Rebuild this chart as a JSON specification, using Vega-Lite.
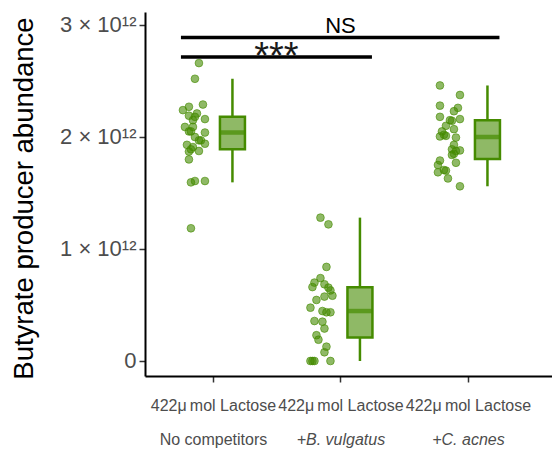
{
  "$schema": "https://vega.github.io/schema/vega-lite/v6.json",
  "width": 407,
  "height": 364,
  "autosize": {"type": "none"},
  "padding": {"left": 145, "top": 12, "right": 0, "bottom": 73},
  "background": "white",
  "config": {"font": "Liberation Sans", "view": {"stroke": null}},
  "datasets": {
    "obs": [
      {"group": "No competitors", "slot": 8, "value": 2.66e12},
      {"group": "No competitors", "slot": 6, "value": 2.52e12},
      {"group": "No competitors", "slot": 10, "value": 2.29e12},
      {"group": "No competitors", "slot": 0, "value": 2.24e12},
      {"group": "No competitors", "slot": 3, "value": 2.27e12},
      {"group": "No competitors", "slot": 3, "value": 2.19e12},
      {"group": "No competitors", "slot": 6, "value": 2.18e12},
      {"group": "No competitors", "slot": 7, "value": 2.21e12},
      {"group": "No competitors", "slot": 5, "value": 2.15e12},
      {"group": "No competitors", "slot": 11, "value": 2.16e12},
      {"group": "No competitors", "slot": 1, "value": 2.09e12},
      {"group": "No competitors", "slot": 5, "value": 2.09e12},
      {"group": "No competitors", "slot": 4, "value": 2.05e12},
      {"group": "No competitors", "slot": 11, "value": 2.04e12},
      {"group": "No competitors", "slot": 3, "value": 2.05e12},
      {"group": "No competitors", "slot": 6, "value": 2.0e12},
      {"group": "No competitors", "slot": 8, "value": 1.97e12},
      {"group": "No competitors", "slot": 9, "value": 1.97e12},
      {"group": "No competitors", "slot": 11, "value": 1.94e12},
      {"group": "No competitors", "slot": 2, "value": 1.93e12},
      {"group": "No competitors", "slot": 5, "value": 1.91e12},
      {"group": "No competitors", "slot": 4, "value": 1.89e12},
      {"group": "No competitors", "slot": 8, "value": 1.875e12},
      {"group": "No competitors", "slot": 3, "value": 1.87e12},
      {"group": "No competitors", "slot": 3, "value": 1.80e12},
      {"group": "No competitors", "slot": 4, "value": 1.595e12},
      {"group": "No competitors", "slot": 6, "value": 1.607e12},
      {"group": "No competitors", "slot": 11, "value": 1.607e12},
      {"group": "No competitors", "slot": 4, "value": 1.185e12},
      {"group": "+B. vulgatus", "slot": 5, "value": 1.28e12},
      {"group": "+B. vulgatus", "slot": 9, "value": 1.22e12},
      {"group": "+B. vulgatus", "slot": 8, "value": 0.84e12},
      {"group": "+B. vulgatus", "slot": 5, "value": 0.74e12},
      {"group": "+B. vulgatus", "slot": 2, "value": 0.70e12},
      {"group": "+B. vulgatus", "slot": 1, "value": 0.66e12},
      {"group": "+B. vulgatus", "slot": 7, "value": 0.685e12},
      {"group": "+B. vulgatus", "slot": 9, "value": 0.655e12},
      {"group": "+B. vulgatus", "slot": 10, "value": 0.63e12},
      {"group": "+B. vulgatus", "slot": 3, "value": 0.545e12},
      {"group": "+B. vulgatus", "slot": 7, "value": 0.575e12},
      {"group": "+B. vulgatus", "slot": 11, "value": 0.583e12},
      {"group": "+B. vulgatus", "slot": 0, "value": 0.476e12},
      {"group": "+B. vulgatus", "slot": 6, "value": 0.446e12},
      {"group": "+B. vulgatus", "slot": 8, "value": 0.435e12},
      {"group": "+B. vulgatus", "slot": 10, "value": 0.435e12},
      {"group": "+B. vulgatus", "slot": 2, "value": 0.357e12},
      {"group": "+B. vulgatus", "slot": 6, "value": 0.351e12},
      {"group": "+B. vulgatus", "slot": 7, "value": 0.29e12},
      {"group": "+B. vulgatus", "slot": 3, "value": 0.23e12},
      {"group": "+B. vulgatus", "slot": 4, "value": 0.19e12},
      {"group": "+B. vulgatus", "slot": 8, "value": 0.128e12},
      {"group": "+B. vulgatus", "slot": 7, "value": 0.078e12},
      {"group": "+B. vulgatus", "slot": 0, "value": 0},
      {"group": "+B. vulgatus", "slot": 1, "value": 0},
      {"group": "+B. vulgatus", "slot": 2, "value": 0},
      {"group": "+B. vulgatus", "slot": 10, "value": 0},
      {"group": "+C. acnes", "slot": 1, "value": 2.46e12},
      {"group": "+C. acnes", "slot": 11, "value": 2.375e12},
      {"group": "+C. acnes", "slot": 1, "value": 2.28e12},
      {"group": "+C. acnes", "slot": 10, "value": 2.26e12},
      {"group": "+C. acnes", "slot": 8, "value": 2.23e12},
      {"group": "+C. acnes", "slot": 1, "value": 2.18e12},
      {"group": "+C. acnes", "slot": 11, "value": 2.16e12},
      {"group": "+C. acnes", "slot": 6, "value": 2.15e12},
      {"group": "+C. acnes", "slot": 7, "value": 2.145e12},
      {"group": "+C. acnes", "slot": 4, "value": 2.10e12},
      {"group": "+C. acnes", "slot": 8, "value": 2.07e12},
      {"group": "+C. acnes", "slot": 2, "value": 2.05e12},
      {"group": "+C. acnes", "slot": 4, "value": 2.01e12},
      {"group": "+C. acnes", "slot": 3, "value": 2.02e12},
      {"group": "+C. acnes", "slot": 1, "value": 2.005e12},
      {"group": "+C. acnes", "slot": 9, "value": 1.995e12},
      {"group": "+C. acnes", "slot": 8, "value": 1.93e12},
      {"group": "+C. acnes", "slot": 7, "value": 1.89e12},
      {"group": "+C. acnes", "slot": 9, "value": 1.875e12},
      {"group": "+C. acnes", "slot": 11, "value": 1.88e12},
      {"group": "+C. acnes", "slot": 8, "value": 1.85e12},
      {"group": "+C. acnes", "slot": 7, "value": 1.84e12},
      {"group": "+C. acnes", "slot": 1, "value": 1.79e12},
      {"group": "+C. acnes", "slot": 9, "value": 1.77e12},
      {"group": "+C. acnes", "slot": 0, "value": 1.75e12},
      {"group": "+C. acnes", "slot": 4, "value": 1.70e12},
      {"group": "+C. acnes", "slot": 0, "value": 1.685e12},
      {"group": "+C. acnes", "slot": 3, "value": 1.705e12},
      {"group": "+C. acnes", "slot": 5, "value": 1.63e12},
      {"group": "+C. acnes", "slot": 11, "value": 1.56e12}
    ],
    "sig": [
      {"from": "No competitors", "to": "+B. vulgatus", "y": 2.714e12, "label": "***"},
      {"from": "No competitors", "to": "+C. acnes", "y": 2.888e12, "label": "NS"}
    ]
  },
  "resolve": {"axis": {"x": "independent", "y": "independent"}},
  "layer": [
    {
      "data": {"name": "obs"},
      "mark": {"type": "point", "filled": true, "shape": "circle", "size": 60, "color": "#458B00", "fillOpacity": 0.6, "stroke": "#458B00", "strokeOpacity": 0.6, "strokeWidth": 1},
      "encoding": {
        "x": {
          "field": "group", "type": "nominal",
          "scale": {"type": "point", "domain": ["No competitors", "+B. vulgatus", "+C. acnes"], "padding": 0.596, "align": 0.447},
          "axis": {"orient": "bottom", "title": null, "labelExpr": "'422μ\u2009mol Lactose'", "labelFontSize": 16, "labelColor": "#4d4d4d", "labelPadding": 15, "labelAngle": 0, "labelBaseline": "top", "tickSize": 6, "tickColor": "#333333", "tickWidth": 1.5, "domainColor": "#000000", "domainWidth": 2, "grid": false}
        },
        "xOffset": {"field": "slot", "type": "ordinal", "scale": {"type": "point", "domain": [0,1,2,3,4,5,6,7,8,9,10,11], "range": [-30, -8], "padding": 0}},
        "y": {
          "field": "value", "type": "quantitative",
          "scale": {"domain": [-0.134e12, 3.116e12], "nice": false, "zero": false},
          "axis": {"orient": "left", "title": "Butyrate producer abundance", "values": [0, 1e12, 2e12, 3e12], "labelExpr": "datum.value == 0 ? '0' : format(datum.value / 1e12, 'd') + ' × 10¹²'", "labelFontSize": 22, "labelColor": "#4d4d4d", "labelPadding": 3, "tickSize": 6, "tickColor": "#333333", "tickWidth": 1.5, "domainColor": "#000000", "domainWidth": 2, "grid": false, "titleFontSize": 27.5, "titleFontWeight": "normal", "titleColor": "#000000", "titleX": -113, "titleY": 186, "titleAngle": -90, "titleBaseline": "alphabetic", "titleAlign": "center"}
        }
      }
    },
    {
      "data": {"name": "obs"},
      "mark": {
        "type": "boxplot", "extent": 1.5, "outliers": false, "size": 25, "color": "#458B00",
        "box": {"fill": "#458B00", "fillOpacity": 0.6, "stroke": "#458B00", "strokeWidth": 2.5, "xOffset": 19.5},
        "median": {"color": "#458B00", "thickness": 4.5, "xOffset": 19.5},
        "rule": {"stroke": "#458B00", "strokeWidth": 2.5, "xOffset": 19.5},
        "ticks": false
      },
      "encoding": {
        "x": {"field": "group", "type": "nominal", "axis": null},
        "y": {"field": "value", "type": "quantitative", "axis": null}
      }
    },
    {
      "data": {"name": "sig"},
      "mark": {"type": "rule", "color": "#000000", "strokeWidth": 3.5, "xOffset": -32, "x2Offset": 31.5},
      "encoding": {
        "x": {
          "field": "from", "type": "nominal",
          "axis": {"orient": "bottom", "title": null, "labelExpr": "datum.value", "labelFontSize": 16, "labelColor": "#4d4d4d", "labelPadding": 49, "labelAngle": 0, "labelBaseline": "top", "tickSize": 6, "tickOpacity": 0, "domain": false, "grid": false,
            "labelFontStyle": {"condition": {"test": "datum.value == 'No competitors'", "value": "normal"}, "value": "italic"}}
        },
        "x2": {"field": "to"},
        "y": {"field": "y", "type": "quantitative", "axis": null}
      }
    },
    {
      "data": {"name": "sig"},
      "transform": [{"filter": "datum.label == 'NS'"}],
      "mark": {"type": "text", "fontSize": 22, "color": "#000000", "align": "center", "baseline": "alphabetic", "dx": 127.5, "dy": -4.5},
      "encoding": {
        "x": {"field": "from", "type": "nominal", "axis": null},
        "y": {"field": "y", "type": "quantitative", "axis": null},
        "text": {"field": "label"}
      }
    },
    {
      "data": {"name": "sig"},
      "transform": [{"filter": "datum.label == '***'"}],
      "mark": {"type": "text", "fontSize": 38, "color": "#1a1a1a", "align": "center", "baseline": "alphabetic", "dx": 63.5, "dy": 12},
      "encoding": {
        "x": {"field": "from", "type": "nominal", "axis": null},
        "y": {"field": "y", "type": "quantitative", "axis": null},
        "text": {"field": "label"}
      }
    }
  ]
}
